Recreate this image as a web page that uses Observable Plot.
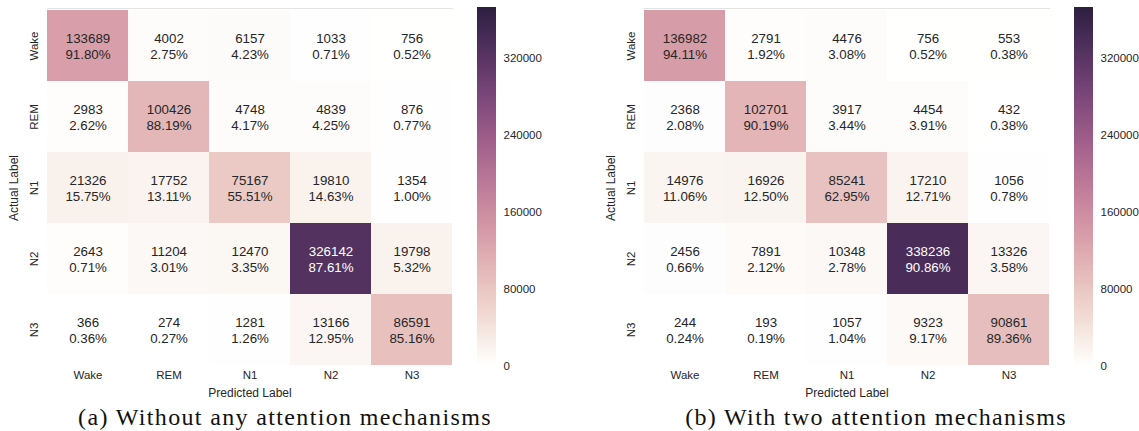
<!DOCTYPE html>
<html>
<head>
<meta charset="utf-8">
<script src="https://cdn.jsdelivr.net/npm/d3@7"></script>
<script src="https://cdn.jsdelivr.net/npm/@observablehq/plot@0.6"></script>
<style>
  body { margin: 0; background: #fff; }
  #fig { position: relative; width: 1139px; height: 431px; overflow: hidden; background: #fff; }
  .part { position: absolute; top: 0; }
  #fig svg [aria-label="x-axis label"] text,
  #fig svg [aria-label="y-axis label"] text { font-size: 12px; }
  .caption {
    position: absolute; top: 405px; white-space: nowrap; transform: translateX(-50%);
    font-family: "Liberation Serif", "Times New Roman", serif; font-size: 24px; line-height: 25px;
    letter-spacing: 1.35px; color: #111;
  }
</style>
</head>
<body>
<div id="fig"></div>
<script>
// Sleep stages, used for both the predicted (columns) and actual (rows) axes
const stages = ["Wake", "REM", "N1", "N2", "N3"];

// Confusion matrix without attention: counts and row-normalised percentages
const countsPlain = [
  [133689, 4002, 6157, 1033, 756],
  [2983, 100426, 4748, 4839, 876],
  [21326, 17752, 75167, 19810, 1354],
  [2643, 11204, 12470, 326142, 19798],
  [366, 274, 1281, 13166, 86591]
];
const percentPlain = [
  [91.80, 2.75, 4.23, 0.71, 0.52],
  [2.62, 88.19, 4.17, 4.25, 0.77],
  [15.75, 13.11, 55.51, 14.63, 1.00],
  [0.71, 3.01, 3.35, 87.61, 5.32],
  [0.36, 0.27, 1.26, 12.95, 85.16]
];

// Confusion matrix with two attention mechanisms
const countsAttn = [
  [136982, 2791, 4476, 756, 553],
  [2368, 102701, 3917, 4454, 432],
  [14976, 16926, 85241, 17210, 1056],
  [2456, 7891, 10348, 338236, 13326],
  [244, 193, 1057, 9323, 90861]
];
const percentAttn = [
  [94.11, 1.92, 3.08, 0.52, 0.38],
  [2.08, 90.19, 3.44, 3.91, 0.38],
  [11.06, 12.50, 62.95, 12.71, 0.78],
  [0.66, 2.12, 2.78, 90.86, 3.58],
  [0.24, 0.19, 1.04, 9.17, 89.36]
];

const colorTicks = [0, 80000, 160000, 240000, 320000];
const captions = ["(a) Without any attention mechanisms", "(b) With two attention mechanisms"];

// Colour range tops out at the largest class total
const colorMax = d3.max([...countsPlain, ...countsAttn], row => d3.sum(row));

// seaborn cubehelix_palette(light=1, dark=0.15, start=0, rot=0.4, hue=0.8)
function cubehelix(t) {
  const x = 1 + (0.15 - 1) * t;
  const amp = 0.8 * x * (1 - x) / 2;
  const phi = 2 * Math.PI * (0.4 * x);
  const c = Math.cos(phi), s = Math.sin(phi);
  const clip = v => Math.round(255 * Math.max(0, Math.min(1, v)));
  const r = x + amp * (-0.14861 * c + 1.78277 * s);
  const g = x + amp * (-0.29227 * c - 0.90649 * s);
  const b = x + amp * (1.97294 * c);
  return `rgb(${clip(r)},${clip(g)},${clip(b)})`;
}

// Dark text on light cells, white on dark ones (relative luminance threshold)
function isDark(v) {
  const col = d3.rgb(cubehelix(Math.min(1, v / colorMax)));
  const lin = u => { u /= 255; return u <= 0.03928 ? u / 12.92 : Math.pow((u + 0.055) / 1.055, 2.4); };
  return 0.2126 * lin(col.r) + 0.7152 * lin(col.g) + 0.0722 * lin(col.b) <= 0.408;
}

const colorScale = { type: "linear", domain: [0, colorMax], interpolate: cubehelix };
const ink = "#262626";
const sans = "'Liberation Sans', Arial, sans-serif";

function heatmap(counts, percents) {
  const cells = [];
  counts.forEach((row, i) => row.forEach((v, j) => cells.push({
    actual: stages[i], predicted: stages[j], count: v, pct: percents[i][j]
  })));
  const label = d => `${d.count}\n${d.pct.toFixed(2)}%`;
  return Plot.plot({
    width: 470, height: 400,
    marginLeft: 47, marginRight: 18, marginTop: 8, marginBottom: 33,
    style: { fontFamily: sans, fontSize: "11.5px", color: ink, background: "transparent", overflow: "visible" },
    x: { domain: stages, padding: 0 },
    y: { domain: stages, padding: 0 },
    color: colorScale,
    marks: [
      Plot.frame({ anchor: "top", stroke: "#e3e3e3" }),
      Plot.cell(cells, { x: "predicted", y: "actual", fill: "count", inset: 0 }),
      Plot.text(cells, { filter: d => !isDark(d.count), x: "predicted", y: "actual", text: label, fill: ink, fontSize: 13.3, lineHeight: 1.15 }),
      Plot.text(cells, { filter: d => isDark(d.count), x: "predicted", y: "actual", text: label, fill: "white", fontSize: 13.3, lineHeight: 1.15 }),
      Plot.axisX({ tickSize: 0, tickPadding: 3, fontSize: 11.5, fill: ink,
        label: "Predicted Label", labelAnchor: "center", labelOffset: 29 }),
      Plot.axisY({ tickSize: 0, tickPadding: 10, tickRotate: -90, fontSize: 11.5, fill: ink,
        label: "Actual Label", labelAnchor: "center", labelOffset: 38 })
    ]
  });
}

function colorbar() {
  const n = 256;
  const steps = d3.range(n).map(i => ({ lo: i * colorMax / n, hi: (i + 1) * colorMax / n }));
  return Plot.plot({
    width: 80, height: 400,
    marginLeft: 0, marginRight: 61, marginTop: 7, marginBottom: 34,
    style: { fontFamily: sans, fontSize: "11.5px", color: ink, background: "transparent", overflow: "visible" },
    x: { axis: null, domain: [0, 1] },
    y: { domain: [0, colorMax], axis: null },
    color: colorScale,
    marks: [
      Plot.rect(steps, { x1: 0, x2: 1, y1: "lo", y2: "hi", fill: d => (d.lo + d.hi) / 2, shapeRendering: "crispEdges" }),
      Plot.axisY({ anchor: "right", ticks: colorTicks, tickSize: 0, tickPadding: 7, fontSize: 11.5, fill: ink,
        tickFormat: d3.format("d"), label: null })
    ]
  });
}

const fig = document.getElementById("fig");
function place(node, left) {
  node.classList.add("part");
  node.style.left = left + "px";
  fig.appendChild(node);
}

place(heatmap(countsPlain, percentPlain), 0);
place(colorbar(), 477);
place(heatmap(countsAttn, percentAttn), 597);
place(colorbar(), 1074);

[[captions[0], 285], [captions[1], 876]].forEach(([text, cx]) => {
  const div = document.createElement("div");
  div.className = "caption";
  div.style.left = cx + "px";
  div.textContent = text;
  fig.appendChild(div);
});
</script>
</body>
</html>
